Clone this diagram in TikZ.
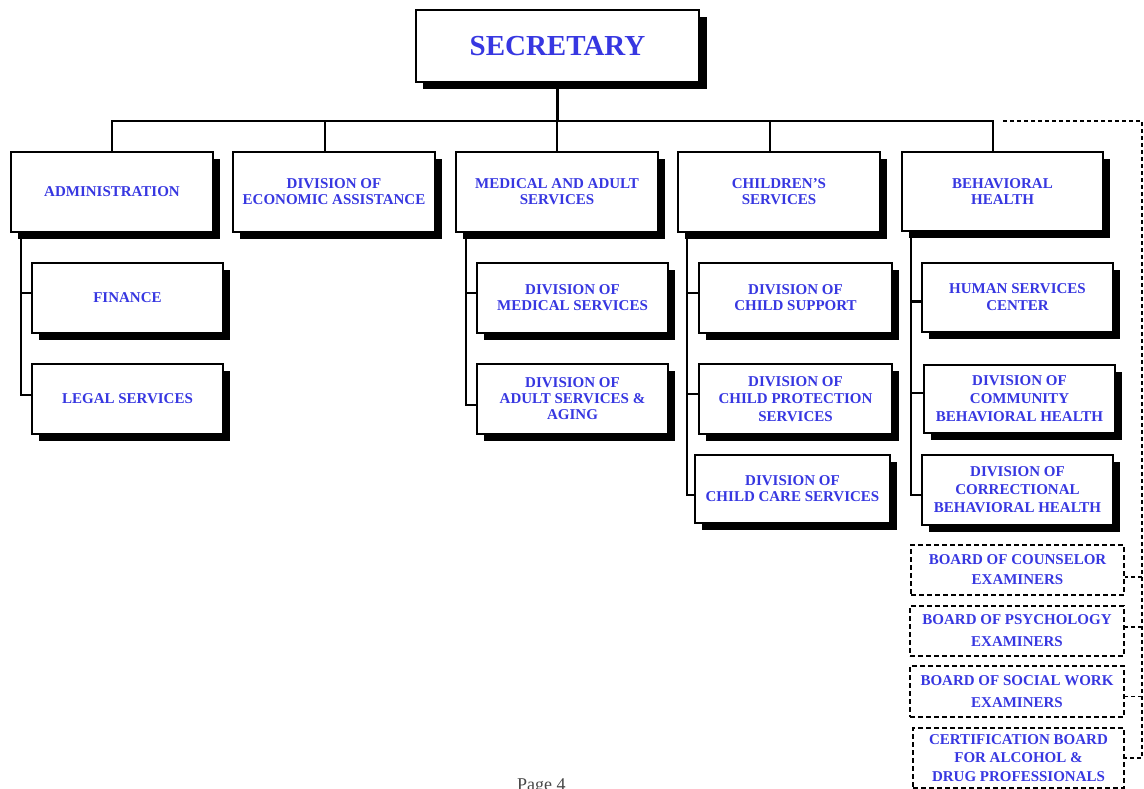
\documentclass[tikz,border=0pt]{standalone}
\usepackage{fontspec}
\setmainfont{Liberation Serif}
\usetikzlibrary{shadows}
\definecolor{tblue}{RGB}{55,55,225}
\definecolor{pagegray}{RGB}{70,70,70}
\tikzset{
  orgbox/.style={draw, line width=2.4pt, fill=white, text=tblue, align=center,
    inner sep=0pt, font=\bfseries\fontsize{15}{16}\selectfont,
    general shadow={fill=black, shadow xshift=7pt, shadow yshift=-7pt}},
  boardbox/.style={draw, line width=1.6pt, dash pattern=on 5pt off 3pt,
    text=tblue, align=center, inner sep=0pt,
    font=\bfseries\fontsize{15}{20}\selectfont},
  conn/.style={line width=2.1pt},
  dconn/.style={line width=1.1pt, dash pattern=on 4pt off 3pt}
}
\begin{document}
\begin{tikzpicture}[x=1pt,y=-1pt]
\useasboundingbox (0,0) rectangle (1144,788);
% top
\node[orgbox, line width=2.8pt, minimum width=283pt, minimum height=72pt,
  font=\bfseries\fontsize{29}{30}\selectfont,
  general shadow={fill=black, shadow xshift=8pt, shadow yshift=-7pt}]
  (sec) at (557.5,46) {SECRETARY};
% level 1
\node[orgbox, minimum width=202pt, minimum height=80pt] (admin) at (112,192) {ADMINISTRATION};
\node[orgbox, minimum width=202pt, minimum height=80pt] (econ) at (334,192) {DIVISION OF\\ECONOMIC ASSISTANCE};
\node[orgbox, minimum width=202pt, minimum height=80pt] (med) at (557,192) {MEDICAL AND ADULT\\SERVICES};
\node[orgbox, minimum width=202pt, minimum height=80pt] (child) at (779,192) {CHILDREN’S\\SERVICES};
\node[orgbox, minimum width=201pt, minimum height=79pt] (beh) at (1002.5,191.5) {BEHAVIORAL\\HEALTH};
% level 2
\node[orgbox, minimum width=191pt, minimum height=70pt] (fin) at (127.5,298) {FINANCE};
\node[orgbox, minimum width=191pt, minimum height=70pt] (legal) at (127.5,399) {LEGAL SERVICES};
\node[orgbox, minimum width=191pt, minimum height=70pt] (medsv) at (572.5,298) {DIVISION OF\\MEDICAL SERVICES};
\node[orgbox, minimum width=191pt, minimum height=70pt] (adult) at (572.5,399) {DIVISION OF\\ADULT SERVICES \&\\AGING};
\node[orgbox, minimum width=193pt, minimum height=70pt] (cs) at (795.5,298) {DIVISION OF\\CHILD SUPPORT};
\node[orgbox, minimum width=193pt, minimum height=70pt, font=\bfseries\fontsize{15}{17.5}\selectfont] (cps) at (795.5,399) {DIVISION OF\\CHILD PROTECTION\\SERVICES};
\node[orgbox, minimum width=195pt, minimum height=68pt] (ccs) at (792.5,489) {DIVISION OF\\CHILD CARE SERVICES};
\node[orgbox, minimum width=191pt, minimum height=69pt, font=\bfseries\fontsize{15}{17}\selectfont] (hsc) at (1017.5,297.5) {HUMAN SERVICES\\CENTER};
\node[orgbox, minimum width=191pt, minimum height=68pt, font=\bfseries\fontsize{15}{18}\selectfont] (dcbh) at (1019.5,399) {DIVISION OF\\COMMUNITY\\BEHAVIORAL HEALTH};
\node[orgbox, minimum width=191pt, minimum height=70pt, font=\bfseries\fontsize{15}{18}\selectfont] (dcorbh) at (1017.5,490) {DIVISION OF\\CORRECTIONAL\\BEHAVIORAL HEALTH};
% boards
\node[boardbox, minimum width=213pt, minimum height=50pt] (b1) at (1017.5,570) {BOARD OF COUNSELOR\\EXAMINERS};
\node[boardbox, minimum width=214pt, minimum height=50pt, font=\bfseries\fontsize{15}{22}\selectfont] (b2) at (1017,631) {BOARD OF PSYCHOLOGY\\EXAMINERS};
\node[boardbox, minimum width=214pt, minimum height=51pt, font=\bfseries\fontsize{15}{22}\selectfont] (b3) at (1017,691.5) {BOARD OF SOCIAL WORK\\EXAMINERS};
\node[boardbox, minimum width=211pt, minimum height=60pt, font=\bfseries\fontsize{15}{18.5}\selectfont] (b4) at (1018.5,758) {CERTIFICATION BOARD\\FOR ALCOHOL \&\\DRUG PROFESSIONALS};
% page footer
\node[anchor=north west, inner sep=0pt, text=pagegray, font=\fontsize{18}{18}\selectfont] (page) at (517,778) {Page 4};
% top connectors
\coordinate (bar) at (0,121);
\coordinate (econT) at ([xshift=-9pt]econ.north);
\coordinate (childT) at ([xshift=-9pt]child.north);
\coordinate (behT) at ([xshift=-9.5pt]beh.north);
\draw[conn] (sec.south) -- (sec.south |- bar);
\draw[conn] (admin.north) -- (admin.north |- bar) -- (behT |- bar) -- (behT);
\draw[conn] (econT) -- (econT |- bar);
\draw[conn] (med.north) -- (med.north |- bar);
\draw[conn] (childT) -- (childT |- bar);
% administration group
\coordinate (adminV) at ([xshift=11pt]admin.south west);
\coordinate (finS) at ([yshift=5pt]fin.west);
\coordinate (legalS) at ([yshift=4pt]legal.west);
\draw[conn] (adminV) |- (legalS);
\draw[conn] (adminV |- finS) -- (finS);
% medical group
\coordinate (medV) at ([xshift=11pt]med.south west);
\coordinate (medsvS) at ([yshift=5pt]medsv.west);
\coordinate (adultS) at ([yshift=-6pt]adult.west);
\draw[conn] (medV) |- (adultS);
\draw[conn] (medV |- medsvS) -- (medsvS);
% children group
\coordinate (childV) at ([xshift=10pt]child.south west);
\coordinate (csS) at ([yshift=5pt]cs.west);
\coordinate (cpsS) at ([yshift=5pt]cps.west);
\coordinate (ccsS) at ([yshift=-6pt]ccs.west);
\draw[conn] (childV) |- (ccsS);
\draw[conn] (childV |- csS) -- (csS);
\draw[conn] (childV |- cpsS) -- (cpsS);
% behavioral group
\coordinate (behV) at ([xshift=10pt]beh.south west);
\coordinate (hscS) at ([yshift=-4pt]hsc.west);
\coordinate (dcbhS) at ([yshift=6pt]dcbh.west);
\coordinate (dcorbhS) at ([yshift=-5pt]dcorbh.west);
\draw[conn] (behV) |- (dcorbhS);
\draw[conn] (behV |- hscS) -- (hscS);
\draw[conn] (behV |- dcbhS) -- (dcbhS);
% dashed boards connectors
\coordinate (dstart) at (1003,121);
\coordinate (dcorner) at (1142,121);
\coordinate (b1S) at ([yshift=-7pt]b1.east);
\coordinate (b2S) at ([yshift=4pt]b2.east);
\coordinate (b3S) at ([yshift=-5pt]b3.east);
\draw[dconn] (dstart) -- (dcorner) |- (b4.east);
\draw[dconn] (dcorner |- b1S) -- (b1S);
\draw[dconn] (dcorner |- b2S) -- (b2S);
\draw[dconn] (dcorner |- b3S) -- (b3S);
\end{tikzpicture}
\end{document}
